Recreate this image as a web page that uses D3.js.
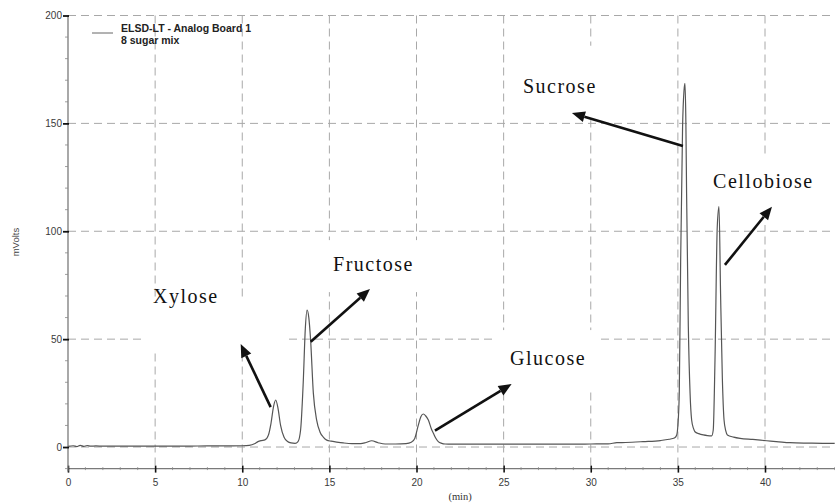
<!DOCTYPE html>
<html><head><meta charset="utf-8">
<script src="https://cdn.jsdelivr.net/npm/d3@7"></script>
<style>
html,body{margin:0;padding:0;background:#fff;}
svg{display:block;}
</style></head>
<body>
<svg id="chart" width="835" height="503"></svg>
<script>
// ---- data ----
const timeMin = [0,0.3,0.5,0.7,0.9,1.1,1.3,1.6,2,3,4,5,6,7,8,9,10,10.4,10.7,10.9,11.1,11.3,11.5,11.65,11.8,11.92,12.05,12.2,12.4,12.6,12.8,13.03,13.2,13.35,13.5,13.62,13.72,13.82,13.92,14.08,14.27,14.46,14.65,14.85,15.1,15.42,15.8,16.3,16.8,17.1,17.43,17.8,18.2,18.8,19.4,19.7,19.9,20.1,20.25,20.39,20.52,20.68,20.85,20.97,21.1,21.25,21.45,21.64,22,23,24,25,26,27,28,29,30,31,31.5,32,33,34,34.5,34.8,34.93,35.0,35.08,35.16,35.27,35.35,35.41,35.46,35.5,35.6,35.7,35.79,35.9,35.98,36.2,36.46,36.7,36.94,37.03,37.13,37.26,37.36,37.45,37.55,37.65,37.75,37.84,38.2,38.57,39.3,40.1,40.8,41.43,42.5,43.3,44];
const mVolts = [0.3,0.6,0.2,0.8,0.3,0.7,0.4,0.5,0.4,0.4,0.4,0.4,0.4,0.45,0.5,0.5,0.6,0.8,1.5,2.5,3.0,3.3,5.5,11,19,21.8,18,10,4.5,2.6,1.9,1.7,2.5,8,30,55,63.5,60,50,25,12.5,7,4.6,3.2,2.7,2.3,1.9,1.6,1.6,2.1,2.9,2.0,1.4,1.4,1.6,2.2,4,10,14,15.3,14.5,12.5,8.5,6.4,4.2,2.5,1.7,1.4,1.3,1.3,1.3,1.3,1.3,1.3,1.3,1.3,1.4,1.5,2.0,2.1,2.5,3.0,3.6,4.2,5.5,10,25,86.7,148.5,165,168.5,150,117.6,55.8,24.9,12.5,8.5,7.1,6.2,5.6,5.3,5.2,7.9,40.3,102,111.4,71.2,32.6,12.5,7.5,5.6,4.6,4,3.5,2.9,2.4,2,1.8,1.7,1.7];
const xTicks = [0,5,10,15,20,25,30,35,40];
const yTicks = [0,50,100,150,200];
const legendLabels = ["ELSD-LT - Analog Board 1", "8 sugar mix"];
const peakNames = ["Xylose","Fructose","Glucose","Sucrose","Cellobiose"];
// label anchor (t, mV) and arrow tail -> tip in data units
const labelT = [4.88,15.21,25.37,26.11,37.02];
const labelV = [66.7,81.6,38.0,164.0,120.0];
const arrowFromT = [11.63,13.93,21.06,35.29,37.70];
const arrowFromV = [18.5,48.8,7.6,139.5,84.4];
const arrowToT = [9.91,17.33,25.46,28.92,40.40];
const arrowToV = [47.7,73.2,29.2,154.8,111.4];
// pasted label patches (white boxes hiding the grid) in data units
const patchT0 = [4.42,12.63,24.5,25.4,36.3];
const patchT1 = [12.57,20.77,30.5,30.5,44];
const patchV0 = [45.4,71.8,27.3,151.5,102.9];
const patchV1 = [69.5,95.9,54.2,186,134.4];

// ---- chart ----
const svg = d3.select("#chart");
const x = d3.scaleLinear().domain([0,44]).range([68,834.7]);
const y = d3.scaleLinear().domain([-10,200]).range([468.6,15.5]);
const gridColor = "#a8a8a8";

// grid
const grid = svg.append("g");
grid.selectAll("line.h").data(yTicks).join("line")
  .attr("x1", x(0)).attr("x2", 835).attr("y1", d=>y(d)).attr("y2", d=>y(d))
  .attr("stroke", gridColor).attr("stroke-width",1).attr("stroke-dasharray","8,5");
grid.selectAll("line.v").data(xTicks.filter(d=>d>0)).join("line")
  .attr("x1", d=>x(d)).attr("x2", d=>x(d)).attr("y1", y(200)).attr("y2", y(-10))
  .attr("stroke", gridColor).attr("stroke-width",1).attr("stroke-dasharray","8,5");

// white patches
svg.append("g").selectAll("rect").data(peakNames).join("rect")
  .attr("x",(d,i)=>x(patchT0[i])).attr("width",(d,i)=>x(patchT1[i])-x(patchT0[i]))
  .attr("y",(d,i)=>y(patchV1[i])).attr("height",(d,i)=>y(patchV0[i])-y(patchV1[i]))
  .attr("fill","#fff");

// axes
const axisColor = "#7a7a7a";
const xAxisG = svg.append("g").attr("transform", `translate(0,${y(-10)})`);
xAxisG.append("line").attr("x1", x(0)).attr("x2", 835).attr("y1",0).attr("y2",0)
  .attr("stroke", axisColor).attr("stroke-width",1.3);
xAxisG.selectAll("line.minor").data(d3.range(1,45).filter(d=>d%5!==0)).join("line")
  .attr("x1", d=>x(d)).attr("x2", d=>x(d)).attr("y1",-1.5).attr("y2",1.5)
  .attr("stroke","#888").attr("stroke-width",0.8);
const xAxis = d3.axisBottom(x).tickValues(xTicks).tickSize(4).tickFormat(d3.format("d"));
const xa = xAxisG.append("g").call(xAxis);
xa.select(".domain").remove();
xa.selectAll(".tick line").attr("y1",-3).attr("y2",4).attr("stroke","#111").attr("stroke-width",1.6);
xa.selectAll(".tick text").attr("y",10).attr("dy","0.71em")
  .attr("font-family","Liberation Sans, Arial, sans-serif").attr("font-size","10px").attr("fill","#3a3a3a");

const yAxisG = svg.append("g").attr("transform", `translate(${x(0)},0)`);
yAxisG.append("line").attr("x1",0).attr("x2",0).attr("y1", y(200)).attr("y2", y(-10)+3)
  .attr("stroke", axisColor).attr("stroke-width",1.3);
yAxisG.selectAll("line.minor").data(d3.range(-10,200,10).filter(d=>d%50!==0)).join("line")
  .attr("x1",-3).attr("x2",0).attr("y1", d=>y(d)).attr("y2", d=>y(d))
  .attr("stroke","#888").attr("stroke-width",0.8);
const yAxis = d3.axisLeft(y).tickValues(yTicks).tickSize(5).tickFormat(d3.format("d"));
const ya = yAxisG.append("g").call(yAxis);
ya.select(".domain").remove();
ya.selectAll(".tick line").attr("x1",1).attr("x2",-5).attr("stroke","#111").attr("stroke-width",1.8);
ya.selectAll(".tick text").attr("x",-6)
  .attr("font-family","Liberation Sans, Arial, sans-serif").attr("font-size","10px").attr("fill","#3a3a3a");

// axis titles
svg.append("text").attr("transform", `translate(19,${y(95)}) rotate(-90)`)
  .attr("text-anchor","middle").attr("font-family","Liberation Sans, Arial, sans-serif")
  .attr("font-size","9.5px").attr("fill","#444").text("mVolts");
svg.append("text").attr("x", x(22.5)).attr("y", 500)
  .attr("text-anchor","middle").attr("font-family","Liberation Serif, Times New Roman, serif")
  .attr("font-size","10.5px").attr("fill","#333").text("(min)");

// trace
const pts = timeMin.map((t,i)=>[t, mVolts[i]]);
const line = d3.line().x(d=>x(d[0])).y(d=>y(d[1])).curve(d3.curveMonotoneX);
svg.append("path").datum(pts).attr("d", line)
  .attr("fill","none").attr("stroke","#555").attr("stroke-width",1.2);

// legend
const lg = svg.append("g");
lg.append("line").attr("x1",92).attr("x2",113).attr("y1",33).attr("y2",33)
  .attr("stroke","#666").attr("stroke-width",1);
lg.selectAll("text").data(legendLabels).join("text")
  .attr("x",121).attr("y",(d,i)=>32+i*11.5)
  .attr("font-family","Liberation Sans, Arial, sans-serif").attr("font-weight","bold")
  .attr("font-size","10.5px").attr("fill","#222").text(d=>d);

// annotations
const ann = svg.append("g");
peakNames.forEach((name,i)=>{
  ann.append("text").attr("x", x(labelT[i])).attr("y", y(labelV[i]))
    .attr("font-family","Liberation Serif, Times New Roman, serif")
    .attr("font-size","20px").attr("letter-spacing","1.5px").attr("fill","#111")
    .text(name);
  const x1 = x(arrowFromT[i]), y1 = y(arrowFromV[i]);
  const x2 = x(arrowToT[i]), y2 = y(arrowToV[i]);
  const ang = Math.atan2(y2-y1, x2-x1);
  const L = 13, W = 5.5;
  const bx = x2 - L*Math.cos(ang), by = y2 - L*Math.sin(ang);
  ann.append("line").attr("x1",x1).attr("y1",y1).attr("x2",bx).attr("y2",by)
    .attr("stroke","#111").attr("stroke-width",2.6);
  const p = [[x2,y2],[bx - W*Math.sin(ang), by + W*Math.cos(ang)],[bx + W*Math.sin(ang), by - W*Math.cos(ang)]];
  ann.append("path").attr("d","M"+p.map(q=>q.join(",")).join("L")+"Z").attr("fill","#111");
});
</script>
</body></html>
